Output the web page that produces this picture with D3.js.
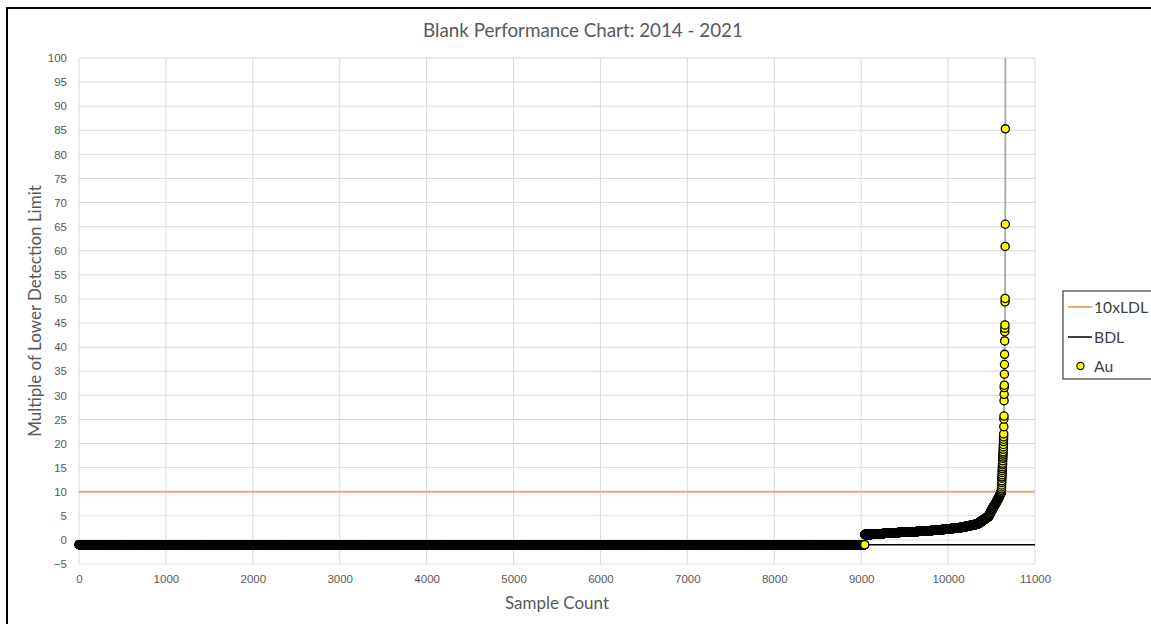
<!DOCTYPE html>
<html><head><meta charset="utf-8">
<script src="https://cdn.jsdelivr.net/npm/d3@7"></script>
<style>
body{margin:0;background:#fff;}
svg{display:block;font-family:Lato,"Open Sans",sans-serif;}
</style>
</head><body>
<svg id="chart" width="1151" height="624"></svg>
<script>
// ---------- data ----------
const chartTitle = "Blank Performance Chart: 2014 - 2021";
const xAxisTitle = "Sample Count";
const yAxisTitle = "Multiple of Lower Detection Limit";
const xTicks = [0,1000,2000,3000,4000,5000,6000,7000,8000,9000,10000,11000];
const yTicks = [-5,0,5,10,15,20,25,30,35,40,45,50,55,60,65,70,75,80,85,90,95,100];
const legendLabels = ["10xLDL","BDL","Au"];
const tenXLDL = 10;          // 10 x lower detection limit line
const bdlLevel = -1;         // below detection limit line
// Au results, sorted: samples below detection limit plotted at -1
const bdlValue = -1;
const bdlSampleCount = 9040;
// detected Au results (multiple of LDL) and how many samples at each level
const detectLevels = [1.1,1.2,1.3,1.4,1.5,1.6,1.7,1.8,1.9,2.0,2.1,2.2,2.3,2.4,2.5,2.6,2.7,2.8,2.9,3.0,3.1,3.2,
  3.3,3.5,3.7,3.9,4.1,4.3,4.5,4.7,
  4.9,5.2,5.5,5.8,6.1,6.4,6.7,7.0,
  7.2,7.4,7.6,7.8,8.0,8.2,8.4,
  8.6,8.8,9.0,9.2,9.4,9.6,9.8];
const detectCounts = [75,75,70,72,105,105,105,106,62,62,63,63,45,45,44,28,28,27,27,27,27,27,
  17,17,17,16,16,17,16,16,
  9,9,9,9,9,9,8,8,
  7,7,7,6,6,6,6,
  6,5,5,5,5,5,5];
// highest individual results
const tailValues = [10.0,10.3,10.6,11.0,11.4,11.9,12.3,12.8,13.1,13.5,14.0,14.4,14.8,15.2,15.6,15.9,16.4,16.9,17.2,17.6,
  18.0,18.3,18.8,19.3,19.8,20.4,20.9,21.4,22.0,23.5,25.1,25.7,28.9,30.2,31.6,32.1,34.4,36.4,38.5,41.3,
  43.2,43.9,44.6,49.4,50.1,60.9,65.5,85.3,160];

// ---------- build series ----------
const auValues = [];
for (let i = 0; i < bdlSampleCount; i++) auValues.push(bdlValue);
detectLevels.forEach((lv, k) => { for (let i = 0; i < detectCounts[k]; i++) auValues.push(lv); });
tailValues.forEach(v => auValues.push(v));
const auPoints = auValues.map((v, i) => ({x: i + 1, y: v}));

// ---------- layout ----------
const svg = d3.select("#chart");
const plot = {left: 79, right: 1035, top: 58, bottom: 564};
const x = d3.scaleLinear().domain([0, 11000]).range([plot.left, plot.right]);
const y = d3.scaleLinear().domain([-5, 100]).range([plot.bottom, plot.top]);
const textGrey = "#595959";

function fitText(sel, target) {
  sel.style("font-size", "20px");
  const w = sel.node().getComputedTextLength();
  sel.style("font-size", (20 * target / w) + "px");
}

// outer frame
svg.append("rect").attr("x", 7).attr("y", 8).attr("width", 1200).attr("height", 700)
  .attr("fill", "#fff").attr("stroke", "#000").attr("stroke-width", 2);

svg.append("defs").append("clipPath").attr("id", "clip")
  .append("rect").attr("x", plot.left - 6).attr("y", plot.top)
  .attr("width", plot.right - plot.left + 12).attr("height", plot.bottom - plot.top + 6);

// gridlines
const grid = svg.append("g");
grid.selectAll("line.h").data(yTicks).join("line").attr("class", "h")
  .attr("x1", plot.left).attr("x2", plot.right)
  .attr("y1", d => y(d)).attr("y2", d => y(d))
  .attr("stroke", "#d9d9d9").attr("stroke-width", 1);
grid.selectAll("line.v").data(xTicks).join("line").attr("class", "v")
  .attr("y1", plot.top).attr("y2", plot.bottom)
  .attr("x1", d => x(d)).attr("x2", d => x(d))
  .attr("stroke", "#d9d9d9").attr("stroke-width", 1);

// axes (labels only, like Excel)
const xAxis = d3.axisBottom(x).tickValues(xTicks).tickSize(0).tickPadding(0).tickFormat(d3.format("d"));
const gx = svg.append("g").attr("transform", `translate(0,${plot.bottom + 11})`).call(xAxis);
gx.select(".domain").remove();
gx.selectAll("text").attr("fill", textGrey).style("font-size", "11.5px").attr("dy", "0.71em").attr("y", 0);

const yAxis = d3.axisLeft(y).tickValues(yTicks).tickSize(0).tickPadding(0).tickFormat(d3.format("d"));
const gy = svg.append("g").attr("transform", `translate(${plot.left - 12},0)`).call(yAxis);
gy.select(".domain").remove();
gy.selectAll("text").attr("fill", textGrey).style("font-size", "11.5px");

// reference lines
svg.append("line").attr("x1", x(0)).attr("x2", x(11000))
  .attr("y1", y(tenXLDL)).attr("y2", y(tenXLDL))
  .attr("stroke", "#F4A66E").attr("stroke-width", 2);
svg.append("line").attr("x1", x(0)).attr("x2", x(11000))
  .attr("y1", y(bdlLevel)).attr("y2", y(bdlLevel))
  .attr("stroke", "#000").attr("stroke-width", 1.5);

// Au series
const pg = svg.append("g").attr("clip-path", "url(#clip)");
pg.append("path").datum(auPoints)
  .attr("d", d3.line().x(d => x(d.x)).y(d => y(d.y)))
  .attr("fill", "none").attr("stroke", "#a6a6a6").attr("stroke-width", 1.75);
pg.selectAll("circle").data(auPoints).join("circle")
  .attr("cx", d => x(d.x)).attr("cy", d => y(d.y)).attr("r", 4.1)
  .attr("fill", "#ffff00").attr("stroke", "#000").attr("stroke-width", 1.3);

// titles
const t = svg.append("text").attr("x", 583).attr("y", 37).attr("text-anchor", "middle")
  .attr("fill", textGrey).text(chartTitle);
fitText(t, 320);
const xt = svg.append("text").attr("x", 557).attr("y", 609).attr("text-anchor", "middle")
  .attr("fill", textGrey).text(xAxisTitle);
fitText(xt, 104);
const yt = svg.append("text").attr("transform", "translate(41,311) rotate(-90)").attr("text-anchor", "middle")
  .attr("fill", textGrey).text(yAxisTitle);
fitText(yt, 252);

// legend
const lg = svg.append("g");
lg.append("rect").attr("x", 1063).attr("y", 291).attr("width", 120).attr("height", 88)
  .attr("fill", "#fff").attr("stroke", "#404040").attr("stroke-width", 1.2);
const ly = [307, 337, 366];
lg.append("line").attr("x1", 1068).attr("x2", 1092).attr("y1", ly[0]).attr("y2", ly[0])
  .attr("stroke", "#F4A66E").attr("stroke-width", 2);
lg.append("line").attr("x1", 1068).attr("x2", 1092).attr("y1", ly[1]).attr("y2", ly[1])
  .attr("stroke", "#000").attr("stroke-width", 1.5);
lg.append("circle").attr("cx", 1080.5).attr("cy", ly[2]).attr("r", 3.6)
  .attr("fill", "#ffff00").attr("stroke", "#000").attr("stroke-width", 1.1);
const lt = lg.selectAll("text.l").data(legendLabels).join("text").attr("class", "l")
  .attr("x", 1094).attr("y", (d, i) => ly[i]).attr("dy", "0.36em")
  .attr("fill", "#404040").text(d => d);
const first = lt.filter((d, i) => i === 0);
fitText(first, 54);
lt.style("font-size", first.style("font-size"));
</script>
</body></html>
